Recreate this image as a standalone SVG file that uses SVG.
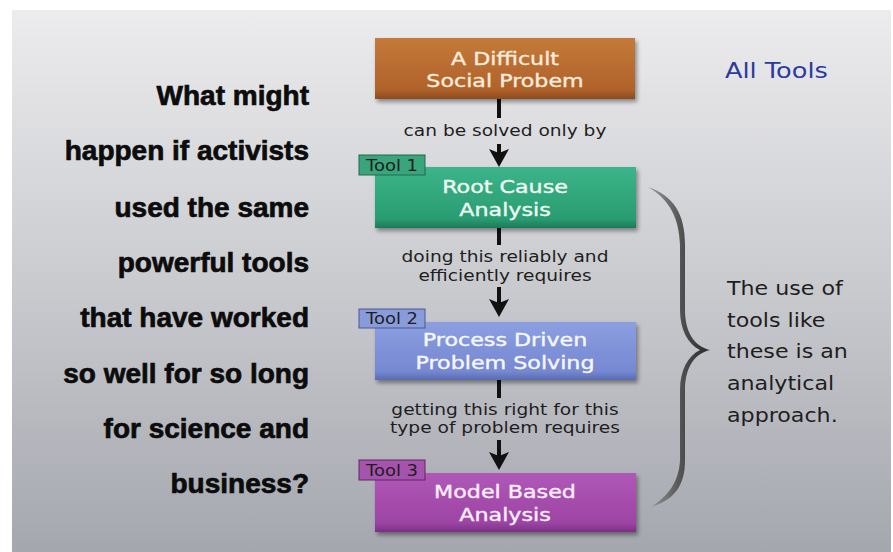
<svg xmlns="http://www.w3.org/2000/svg" width="893" height="552" viewBox="0 0 893 552">
<defs>
  <linearGradient id="bg" x1="0" y1="0" x2="0" y2="1">
    <stop offset="0" stop-color="#ececee"/>
    <stop offset="0.5" stop-color="#cacbcf"/>
    <stop offset="1" stop-color="#a5a7af"/>
  </linearGradient>
  <linearGradient id="gBrown" x1="0" y1="0" x2="0" y2="1">
    <stop offset="0" stop-color="#c47a3a"/>
    <stop offset="0.85" stop-color="#b0622a"/>
    <stop offset="1" stop-color="#8c4a1e"/>
  </linearGradient>
  <linearGradient id="gGreen" x1="0" y1="0" x2="0" y2="1">
    <stop offset="0" stop-color="#3cb489"/>
    <stop offset="0.85" stop-color="#2a9c72"/>
    <stop offset="1" stop-color="#1d7a57"/>
  </linearGradient>
  <linearGradient id="gBlue" x1="0" y1="0" x2="0" y2="1">
    <stop offset="0" stop-color="#8c9fe0"/>
    <stop offset="0.85" stop-color="#7588d2"/>
    <stop offset="1" stop-color="#5a6bb0"/>
  </linearGradient>
  <linearGradient id="gPurple" x1="0" y1="0" x2="0" y2="1">
    <stop offset="0" stop-color="#b058b8"/>
    <stop offset="0.85" stop-color="#9c44a4"/>
    <stop offset="1" stop-color="#7a3082"/>
  </linearGradient>
  <linearGradient id="gBrace" x1="0" y1="0" x2="1" y2="0">
    <stop offset="0" stop-color="#9a9a9a"/>
    <stop offset="0.6" stop-color="#4a4a4a"/>
    <stop offset="1" stop-color="#2a2a2a"/>
  </linearGradient>
  <filter id="shadow" x="-10%" y="-20%" width="125%" height="150%">
    <feDropShadow dx="2" dy="3" stdDeviation="2" flood-color="#000" flood-opacity="0.4"/>
  </filter>
  <marker id="arrow" viewBox="0 0 18 20" refX="8" refY="10" markerWidth="18" markerHeight="20" markerUnits="userSpaceOnUse" orient="auto">
    <path d="M0,0 L4,10 L0,20 L18,10 Z" fill="#111"/>
  </marker>
</defs>
<style>
  .box { filter: url(#shadow); }
  .boxtxt { font-family: "DejaVu Sans", Verdana, sans-serif; font-size: 18.5px; text-anchor: middle; stroke-width: 0.4px; }
  .tab { stroke-width: 1px; }
  .tabtxt { font-family: "DejaVu Sans", Verdana, sans-serif; font-size: 15px; text-anchor: middle; fill: #1e1e1e; }
  .conn { stroke: #111; stroke-width: 4; fill: none; }
  .conntxt { font-family: "DejaVu Sans", Verdana, sans-serif; font-size: 15.5px; text-anchor: middle; fill: #1e1e1e; }
  .q { font-family: "Liberation Sans", Arial, sans-serif; font-weight: bold; font-size: 28px; text-anchor: end; fill: #0c0c0c; stroke: #0c0c0c; stroke-width: 0.7px; }
  .side { font-family: "DejaVu Sans", Verdana, sans-serif; font-size: 20px; fill: #1e1e1e; }
  .title { font-family: "DejaVu Sans", Verdana, sans-serif; font-size: 21.5px; fill: #2b3b9c; }
</style>

<rect x="0" y="0" width="893" height="552" fill="#ffffff"/>
<rect x="12" y="10" width="879" height="542" fill="url(#bg)"/>

<g id="title">
  <text class="title" transform="matrix(1.19 0 0 1 725 78)">All Tools</text>
</g>

<g id="question">
  <text class="q" x="309" y="105">What might</text>
  <text class="q" x="309" y="160">happen if activists</text>
  <text class="q" x="309" y="217">used the same</text>
  <text class="q" x="309" y="272">powerful tools</text>
  <text class="q" x="309" y="327">that have worked</text>
  <text class="q" x="309" y="383">so well for so long</text>
  <text class="q" x="309" y="438">for science and</text>
  <text class="q" x="309" y="493">business?</text>
</g>

<g id="connectors">
  <line class="conn" x1="499" y1="99" x2="499" y2="118"/>
  <line class="conn" x1="499" y1="144" x2="499" y2="157" marker-end="url(#arrow)"/>
  <text class="conntxt" transform="matrix(1.2 0 0 1 505 136)">can be solved only by</text>

  <line class="conn" x1="499" y1="228" x2="499" y2="245"/>
  <line class="conn" x1="499" y1="287" x2="499" y2="307" marker-end="url(#arrow)"/>
  <text class="conntxt" transform="matrix(1.2 0 0 1 505 262)">doing this reliably and</text>
  <text class="conntxt" transform="matrix(1.2 0 0 1 505 280.5)">efficiently requires</text>

  <line class="conn" x1="499" y1="380" x2="499" y2="398"/>
  <line class="conn" x1="499" y1="440" x2="499" y2="460" marker-end="url(#arrow)"/>
  <text class="conntxt" transform="matrix(1.2 0 0 1 505 415)">getting this right for this</text>
  <text class="conntxt" transform="matrix(1.2 0 0 1 505 433)">type of problem requires</text>
</g>

<g id="problem">
  <rect class="box" x="375" y="38" width="260" height="61" fill="url(#gBrown)"/>
  <text class="boxtxt" fill="#f6ebdc" stroke="#f6ebdc" transform="matrix(1.2 0 0 1 505 65)">A Difficult</text>
  <text class="boxtxt" fill="#f6ebdc" stroke="#f6ebdc" transform="matrix(1.2 0 0 1 505 87)">Social Probem</text>
</g>

<g id="tool1">
  <rect class="box" x="375" y="167" width="261" height="61" fill="url(#gGreen)"/>
  <rect class="tab" x="359" y="155" width="66" height="20" fill="#3aa57c" stroke="#1f6a4e"/>
  <text class="tabtxt" transform="matrix(1.2 0 0 1 392 171)">Tool 1</text>
  <text class="boxtxt" fill="#eefaf4" stroke="#eefaf4" transform="matrix(1.2 0 0 1 505 193)">Root Cause</text>
  <text class="boxtxt" fill="#eefaf4" stroke="#eefaf4" transform="matrix(1.2 0 0 1 505 216)">Analysis</text>
</g>

<g id="tool2">
  <rect class="box" x="375" y="322" width="261" height="58" fill="url(#gBlue)"/>
  <rect class="tab" x="359" y="309" width="66" height="19" fill="#8a9bdb" stroke="#4a5892"/>
  <text class="tabtxt" transform="matrix(1.2 0 0 1 392 324)">Tool 2</text>
  <text class="boxtxt" fill="#f6f7ff" stroke="#f6f7ff" transform="matrix(1.2 0 0 1 505 346)">Process Driven</text>
  <text class="boxtxt" fill="#f6f7ff" stroke="#f6f7ff" transform="matrix(1.2 0 0 1 505 369)">Problem Solving</text>
</g>

<g id="tool3">
  <rect class="box" x="375" y="473" width="261" height="59" fill="url(#gPurple)"/>
  <rect class="tab" x="359" y="460" width="66" height="20" fill="#a653ad" stroke="#5e2664"/>
  <text class="tabtxt" transform="matrix(1.2 0 0 1 392 476)">Tool 3</text>
  <text class="boxtxt" fill="#fbeefb" stroke="#fbeefb" transform="matrix(1.2 0 0 1 505 498)">Model Based</text>
  <text class="boxtxt" fill="#fbeefb" stroke="#fbeefb" transform="matrix(1.2 0 0 1 505 520.5)">Analysis</text>
</g>

<g id="brace">
  <path d="M648,187 C674,196 685,214 685,245 L685,310 C685,332 694,346 710,350 C694,354 685,368 685,390 L685,460 C685,486 674,500 651,507 C668,496 679,482 680,460 L680,390 C680,370 688,356 700,350 C688,344 680,330 680,310 L680,245 C679,218 670,200 648,187 Z" fill="url(#gBrace)"/>
</g>

<g id="note">
  <text class="side" transform="matrix(1.108 0 0 1 727 295)">The use of</text>
  <text class="side" transform="matrix(1.108 0 0 1 727 327)">tools like</text>
  <text class="side" transform="matrix(1.108 0 0 1 727 358)">these is an</text>
  <text class="side" transform="matrix(1.108 0 0 1 727 390)">analytical</text>
  <text class="side" transform="matrix(1.108 0 0 1 727 422)">approach.</text>
</g>
</svg>
